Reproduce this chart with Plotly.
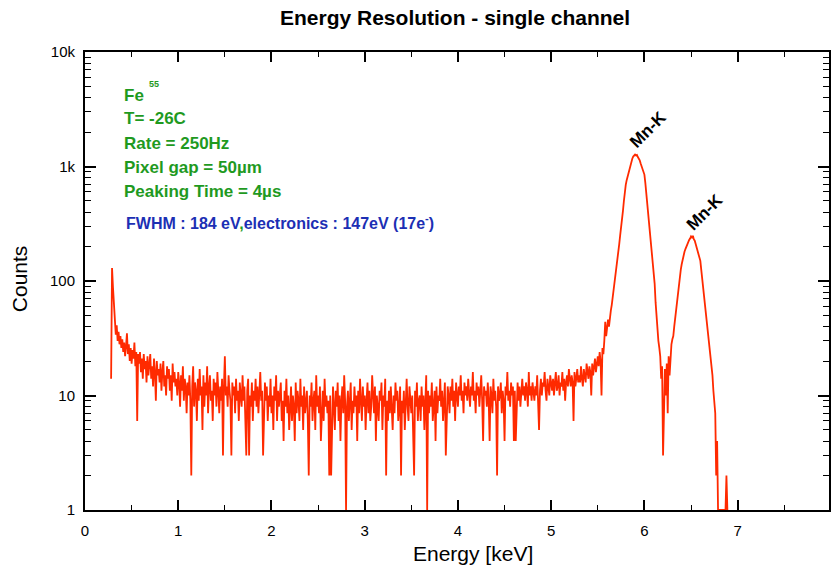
import numpy as np
import plotly.graph_objects as go

# ---- data ----
energy_start = 0.28   # keV, first channel drawn
bin_width = 0.01      # keV per channel

counts_rows = [
    [14, 130],                                                    # 0.28-0.29
    [88, 60, 40, 34, 41, 30, 36, 28, 33, 26],                     # 0.30
    [31, 24, 29, 22, 27, 35, 23, 28, 20, 26],                     # 0.40
    [19, 25, 21, 29, 18, 24, 6, 23, 19, 24],                      # 0.50
    [16, 21, 14, 23, 17, 20, 13, 22, 15, 19],                     # 0.60
    [23, 14, 18, 12, 21, 16, 9, 20, 15, 17],                      # 0.70
    [13, 19, 11, 16, 20, 12, 15, 10, 18, 14],                     # 0.80
    [17, 11, 15, 9, 19, 13, 16, 12, 14, 10],                      # 0.90
    [16, 13, 8, 15, 11, 18, 9, 14, 12, 7],                        # 1.00
    [13, 10, 15, 9, 2, 12, 18, 8, 13, 11],                        # 1.10
    [6, 14, 9, 17, 10, 12, 5, 15, 8, 13],                         # 1.20
    [10, 18, 7, 12, 15, 9, 11, 6, 14, 10],                        # 1.30
    [13, 8, 16, 11, 7, 12, 9, 14, 3, 12],                         # 1.40
    [22, 10, 12, 8, 15, 11, 9, 3, 13, 10],                        # 1.50
    [12, 7, 14, 9, 11, 6, 13, 10, 8, 15],                         # 1.60
    [9, 12, 7, 3, 11, 14, 3, 10, 8, 13],                          # 1.70
    [6, 11, 9, 14, 8, 12, 7, 10, 16, 9],                          # 1.80
    [11, 3, 7, 13, 9, 12, 6, 10, 8, 14],                          # 1.90
    [7, 10, 5, 12, 9, 15, 6, 11, 8, 10],                          # 2.00
    [13, 6, 9, 4, 11, 8, 14, 7, 10, 5],                           # 2.10
    [9, 12, 6, 10, 8, 4, 13, 7, 11, 9],                           # 2.20
    [6, 14, 8, 10, 5, 12, 7, 9, 11, 6],                           # 2.30
    [2, 10, 8, 13, 6, 9, 11, 5, 15, 8],                           # 2.40
    [10, 7, 12, 4, 9, 11, 6, 14, 8, 10],                          # 2.50
    [7, 9, 2, 10, 2, 6, 12, 8, 5, 11],                            # 2.60
    [8, 13, 6, 10, 4, 9, 12, 7, 15, 9],                           # 2.70
    [1, 8, 11, 6, 10, 13, 5, 9, 7, 12],                           # 2.80
    [8, 10, 4, 11, 7, 14, 9, 6, 12, 8],                           # 2.90
    [10, 5, 9, 13, 7, 11, 6, 8, 15, 9],                           # 3.00
    [7, 12, 4, 10, 8, 6, 11, 9, 13, 5],                           # 3.10
    [10, 8, 14, 2, 9, 6, 11, 7, 12, 8],                           # 3.20
    [5, 10, 7, 13, 9, 11, 6, 8, 12, 2],                           # 3.30
    [9, 7, 11, 5, 10, 14, 8, 6, 12, 9],                           # 3.40
    [7, 10, 4, 2, 11, 8, 13, 6, 9, 10],                           # 3.50
    [6, 12, 8, 10, 5, 9, 15, 1, 11, 7],                           # 3.60
    [10, 8, 13, 6, 9, 11, 4, 12, 7, 10],                          # 3.70
    [9, 14, 8, 11, 6, 10, 13, 3, 9, 12],                          # 3.80
    [10, 7, 12, 9, 14, 8, 11, 6, 13, 10],                         # 3.90
    [8, 12, 10, 15, 9, 11, 7, 13, 10, 12],                        # 4.00
    [9, 14, 11, 8, 12, 10, 16, 9, 11, 7],                         # 4.10
    [13, 10, 12, 8, 11, 15, 9, 4, 12, 10],                        # 4.20
    [11, 8, 13, 9, 4, 12, 10, 7, 14, 9],                          # 4.30
    [11, 8, 2, 12, 9, 10, 13, 7, 11, 9],                          # 4.40
    [4, 12, 10, 16, 9, 11, 8, 13, 10, 12],                        # 4.50
    [4, 11, 4, 10, 13, 9, 12, 8, 11, 14],                         # 4.60
    [10, 12, 9, 13, 11, 8, 16, 10, 12, 9],                        # 4.70
    [13, 11, 9, 12, 10, 15, 9, 5, 11, 14],                        # 4.80
    [10, 13, 12, 16, 11, 9, 14, 12, 10, 15],                      # 4.90
    [12, 11, 14, 10, 13, 16, 11, 12, 15, 10],                     # 5.00
    [13, 12, 16, 11, 14, 9, 13, 15, 12, 17],                      # 5.10
    [14, 12, 15, 13, 6, 16, 12, 14, 17, 13],                      # 5.20
    [15, 13, 18, 14, 12, 17, 15, 13, 19, 16],                     # 5.30
    [14, 18, 16, 10, 19, 15, 17, 21, 16, 19],                     # 5.40
    [22, 18, 24, 20, 10, 26, 23, 30, 44, 33],                     # 5.50
    [38, 46, 40, 50, 55, 62, 72, 80, 92, 104],                    # 5.60
    [120, 140, 175, 210, 250, 285, 325, 410, 500, 610],           # 5.70
    [690, 760, 820, 880, 960, 1040, 1120, 1170, 1220, 1240],      # 5.80
    [1270, 1250, 1260, 1210, 1170, 1130, 1060, 1000, 960, 920],   # 5.90
    [850, 720, 590, 500, 420, 350, 300, 240, 195, 160],           # 6.00
    [130, 95, 65, 46, 38, 30, 26, 22, 14, 18],                    # 6.10
    [3, 12, 17, 10, 19, 7, 22, 15, 25, 28],                       # 6.20
    [31, 33, 40, 48, 55, 62, 75, 90, 112, 125],                   # 6.30
    [140, 155, 170, 180, 190, 200, 212, 220, 228, 235],           # 6.40
    [245, 240, 248, 232, 225, 210, 195, 185, 175, 165],           # 6.50
    [150, 125, 105, 92, 78, 62, 52, 45, 40, 32],                  # 6.60
    [26, 22, 18, 15, 11, 9, 7, 2, 4, 1],                          # 6.70
    [1, 1, 1, 1, 1, 1, 1, 1, 2, 1],                               # 6.80
]
counts = [c for row in counts_rows for c in row]
energy = np.round(energy_start + bin_width * np.arange(len(counts)), 2)

x_tick_vals = [0, 1, 2, 3, 4, 5, 6, 7, 8]
x_tick_text = ["0", "1", "2", "3", "4", "5", "6", "7", "8"]
y_tick_vals = [1, 10, 100, 1000, 10000]
y_tick_text = ["1", "10", "100", "1k", "10k"]
y_minor_vals = [d * k for d in (1, 10, 100, 1000) for k in range(2, 10)]

title_text = "Energy Resolution - single channel"
x_title = "Energy [keV]"
y_title = "Counts"
info_lines = ["T= -26C", "Rate = 250Hz", "Pixel gap = 50µm", "Peaking Time = 4µs"]
peak_label = "Mn-K"

# ---- styling / layout ----
W, H = 831, 572
L, R, T, B = 85, 0, 52, 62
FONT = "Liberation Sans, Arial, Helvetica, sans-serif"
GREEN = "#1f9a1f"
BLUE = "#1c2fb4"
RED = "#ff2a00"


def px(xp):
    return (xp - L) / (W - L - R)


def py(yp):
    return (H - B - yp) / (H - T - B)


fig = go.Figure()
fig.add_trace(go.Scatter(
    x=energy, y=counts, mode="lines",
    line=dict(color=RED, width=1.8),
    showlegend=False, hoverinfo="skip",
))

axis_common = dict(
    showline=True, linecolor="black", linewidth=2,
    mirror="ticks", ticks="inside", tickcolor="black", tickwidth=1.6,
    showgrid=False, zeroline=False,
    tickfont=dict(family=FONT, size=15, color="black"),
)

fig.update_xaxes(
    range=[0, 7.98], tickvals=x_tick_vals, ticktext=x_tick_text,
    ticklen=10, ticklabelstandoff=6,
    minor=dict(dtick=0.5, ticks="inside", ticklen=5, tickwidth=1.4, tickcolor="black"),
    **axis_common,
)
fig.update_yaxes(
    type="log", range=[0, 4], tickvals=y_tick_vals, ticktext=y_tick_text,
    ticklen=11, ticklabelstandoff=5,
    minor=dict(tickvals=y_minor_vals, ticks="inside", ticklen=6, tickwidth=1.4, tickcolor="black"),
    **axis_common,
)

ann = []
ann.append(dict(text="<b>%s</b>" % title_text, x=px(456), y=py(18),
                font=dict(family=FONT, size=21, color="black")))
ann.append(dict(text=x_title, x=px(474), y=py(553),
                font=dict(family=FONT, size=21, color="black")))
ann.append(dict(text=y_title, x=px(19), y=py(279), textangle=-90,
                font=dict(family=FONT, size=21, color="black")))

# info block
ann.append(dict(text="<b>Fe</b>", x=px(122), y=py(95), xanchor="left",
                font=dict(family=FONT, size=17, color=GREEN)))
ann.append(dict(text="<b>55</b>", x=px(147), y=py(84), xanchor="left",
                font=dict(family=FONT, size=9, color=GREEN)))
for i, line in enumerate(info_lines):
    ann.append(dict(text="<b>%s</b>" % line, x=px(122), y=py(119 + 24 * i), xanchor="left",
                    font=dict(family=FONT, size=17, color=GREEN)))
ann.append(dict(
    text="<b>FWHM : 184 eV<span style='color:%s'>,</span>electronics : 147eV (17e<sup>-</sup>)</b>" % GREEN,
    x=px(124), y=py(222), xanchor="left",
    font=dict(family=FONT, size=16, color=BLUE)))

# peak labels
ann.append(dict(text="<b>%s</b>" % peak_label, x=px(650), y=py(130), textangle=-45,
                font=dict(family=FONT, size=17, color="black")))
ann.append(dict(text="<b>%s</b>" % peak_label, x=px(706), y=py(212), textangle=-45,
                font=dict(family=FONT, size=17, color="black")))

for a in ann:
    a.update(xref="paper", yref="paper", showarrow=False)
    a.setdefault("xanchor", "center")
    a.setdefault("yanchor", "middle")

fig.update_layout(
    width=W, height=H,
    margin=dict(l=L, r=R, t=T, b=B, pad=0),
    paper_bgcolor="white", plot_bgcolor="white",
    annotations=ann,
    font=dict(family=FONT),
)

fig.write_html("out.html")
